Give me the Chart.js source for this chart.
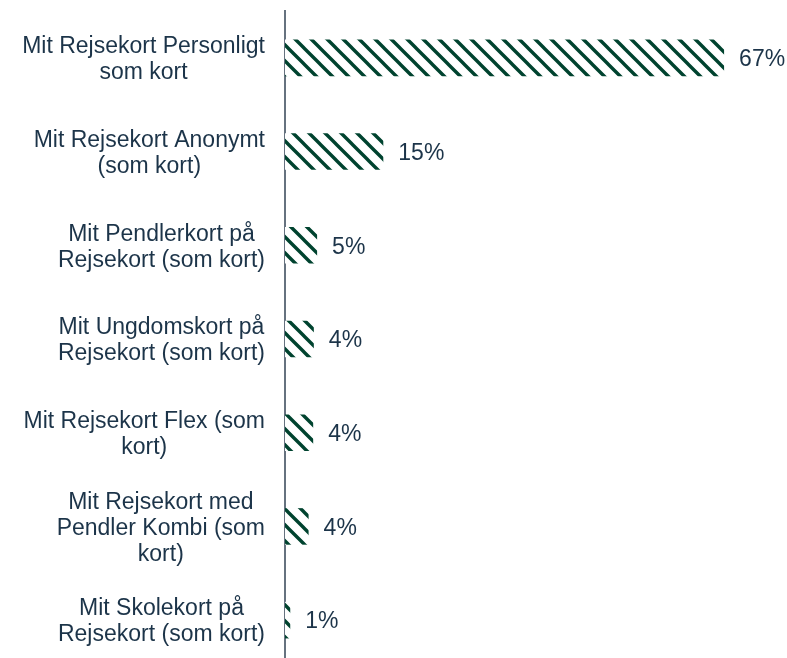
<!DOCTYPE html>
<html>
<head>
<meta charset="utf-8">
<script src="https://cdn.jsdelivr.net/npm/chart.js@4"></script>
<style>
  html, body { margin: 0; padding: 0; background: #fff; overflow: hidden; }
  #wrap { position: relative; width: 787px; height: 670px; }
</style>
</head>
<body>
<div id="wrap"><canvas id="myChart"></canvas></div>
<script>
const kategorier = [
  ["Mit Rejsekort Personligt", "som kort"],
  ["Mit Rejsekort Anonymt", "(som kort)"],
  ["Mit Pendlerkort på", "Rejsekort (som kort)"],
  ["Mit Ungdomskort på", "Rejsekort (som kort)"],
  ["Mit Rejsekort Flex (som", "kort)"],
  ["Mit Rejsekort med", "Pendler Kombi (som", "kort)"],
  ["Mit Skolekort på", "Rejsekort (som kort)"]
];
const andele = [67, 15, 4.9, 4.4, 4.3, 3.6, 0.8];
const etiketter = ["67%", "15%", "5%", "4%", "4%", "4%", "1%"];

const tekstFarve = '#1c3449';
const groen = '#00432f';
const skrift = '23px "Liberation Sans", Arial, sans-serif';

// skraveret mønster til søjlerne
function lavMoenster(){
  let c = document.createElement('canvas');
  c.width = 16; c.height = 16;
  let p = c.getContext('2d');
  p.fillStyle = '#fff';
  p.fillRect(0, 0, 16, 16);
  p.strokeStyle = groen;
  p.lineWidth = 3.4;
  p.beginPath();
  p.moveTo(-4, -4); p.lineTo(20, 20);
  p.moveTo(-4, 12); p.lineTo(4, 20);
  p.moveTo(12, -4); p.lineTo(20, 4);
  p.stroke();
  return p.createPattern(c, 'repeat');
}

const ctx = document.getElementById('myChart');

// værdier ved søjlerne og kategoritekster (centreret blok, højrestillet mod aksen)
const tekster = {
  id: 'tekster',
  afterDatasetsDraw(chart){
    const c = chart.ctx;
    const y = chart.scales.y;
    c.save();
    c.font = skrift;
    c.fillStyle = tekstFarve;
    c.textBaseline = 'middle';
    c.textAlign = 'left';
    chart.getDatasetMeta(0).data.forEach((bar, i) => {
      c.fillText(etiketter[i], bar.x + 15, bar.y + 2);
    });
    c.textAlign = 'center';
    const hoejre = y.right - 20;
    const linje = 26;
    kategorier.forEach((lab, i) => {
      const midt = y.getPixelForTick(i) + 2;
      let bredde = Math.max(...lab.map(t => c.measureText(t).width));
      let cx = hoejre - bredde / 2;
      let start = midt - (lab.length - 1) * linje / 2;
      lab.forEach((t, j) => c.fillText(t, cx, start + j * linje));
    });
    c.restore();
  }
};

new Chart(ctx, {
  type: 'bar',
  data: {
    labels: kategorier,
    datasets: [{
      data: andele,
      backgroundColor: lavMoenster(),
      borderWidth: 0,
      barPercentage: 0.39,
      categoryPercentage: 1
    }]
  },
  options: {
    indexAxis: 'y',
    responsive: true,
    maintainAspectRatio: false,
    animation: false,
    layout: { padding: { top: 11, bottom: 3, right: 0, left: 0 } },
    plugins: { legend: { display: false }, tooltip: { enabled: false } },
    scales: {
      x: {
        display: false,
        min: 0,
        max: 76.6
      },
      y: {
        grid: { display: false, drawTicks: false },
        border: { display: true, color: '#66727f', width: 2 },
        ticks: { display: false },
        afterFit(scale){
          scale.width = 285;
          scale.paddingTop = 0;
          scale.paddingBottom = 0;
        }
      }
    }
  },
  plugins: [tekster]
});
</script>
</body>
</html>
